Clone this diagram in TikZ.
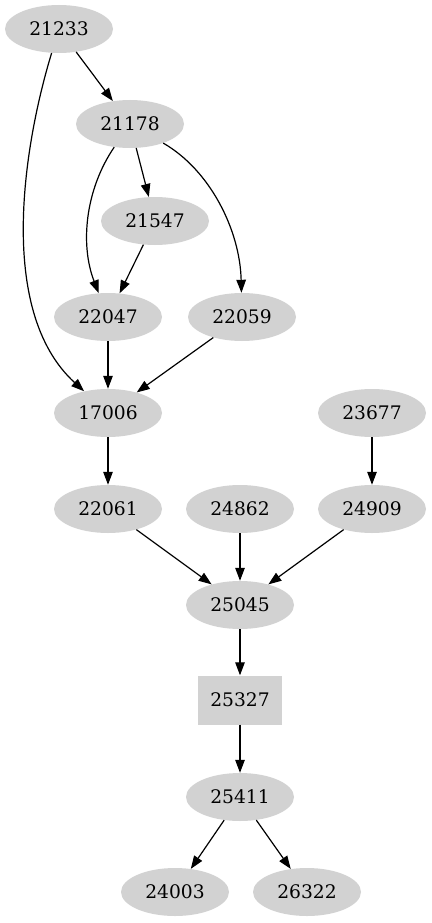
\documentclass[tikz,border=0pt]{standalone}
\usepackage{fontspec}
\setmainfont{DejaVu Serif}
\usetikzlibrary{shapes.geometric,arrows.meta}

\begin{document}
\begin{tikzpicture}[x=1pt,y=-1pt,
  vertex/.style={ellipse,fill=lightgray!70,minimum width=108pt,minimum height=48pt,inner sep=0pt,font=\fontsize{18.67}{22}\selectfont},
  boxvertex/.style={rectangle,fill=lightgray!70,minimum width=84pt,minimum height=49pt,inner sep=0pt,font=\fontsize{18.67}{22}\selectfont},
  edge/.style={-{Triangle[length=13pt,width=9.5pt]},line width=1.2pt}]
\useasboundingbox (0,0) rectangle (431,923);

\node[vertex] (n21233) at (59,29) {21233};
\node[vertex] (n21178) at (130,124) {21178};
\node[vertex] (n21547) at (155,221) {21547};
\node[vertex] (n22047) at (108,317) {22047};
\node[vertex] (n22059) at (242,317) {22059};
\node[vertex] (n17006) at (108,413) {17006};
\node[vertex] (n23677) at (372,413) {23677};
\node[vertex] (n22061) at (108,509) {22061};
\node[vertex] (n24862) at (240,509) {24862};
\node[vertex] (n24909) at (372,509) {24909};
\node[vertex] (n25045) at (240,605) {25045};
\node[boxvertex] (n25327) at (240,700) {25327};
\node[vertex] (n25411) at (240,797) {25411};
\node[vertex] (n24003) at (175,892) {24003};
\node[vertex] (n26322) at (307,892) {26322};

\draw[edge] (n21233) -- (n21178);
\draw[edge] (n21233) .. controls (25,140) and (-5,310) .. (n17006);
\draw[edge] (n21178) .. controls (85,190) and (80,245) .. (n22047);
\draw[edge] (n21178) -- (n21547);
\draw[edge] (n21178) .. controls (210,170) and (240,230) .. (n22059);
\draw[edge] (n21547) -- (n22047);
\draw[edge] (n22047) -- (n17006);
\draw[edge] (n22059) -- (n17006);
\draw[edge] (n17006) -- (n22061);
\draw[edge] (n23677) -- (n24909);
\draw[edge] (n22061) -- (n25045);
\draw[edge] (n24862) -- (n25045);
\draw[edge] (n24909) -- (n25045);
\draw[edge] (n25045) -- (n25327);
\draw[edge] (n25327) -- (n25411);
\draw[edge] (n25411) -- (n24003);
\draw[edge] (n25411) -- (n26322);
\end{tikzpicture}
\end{document}
